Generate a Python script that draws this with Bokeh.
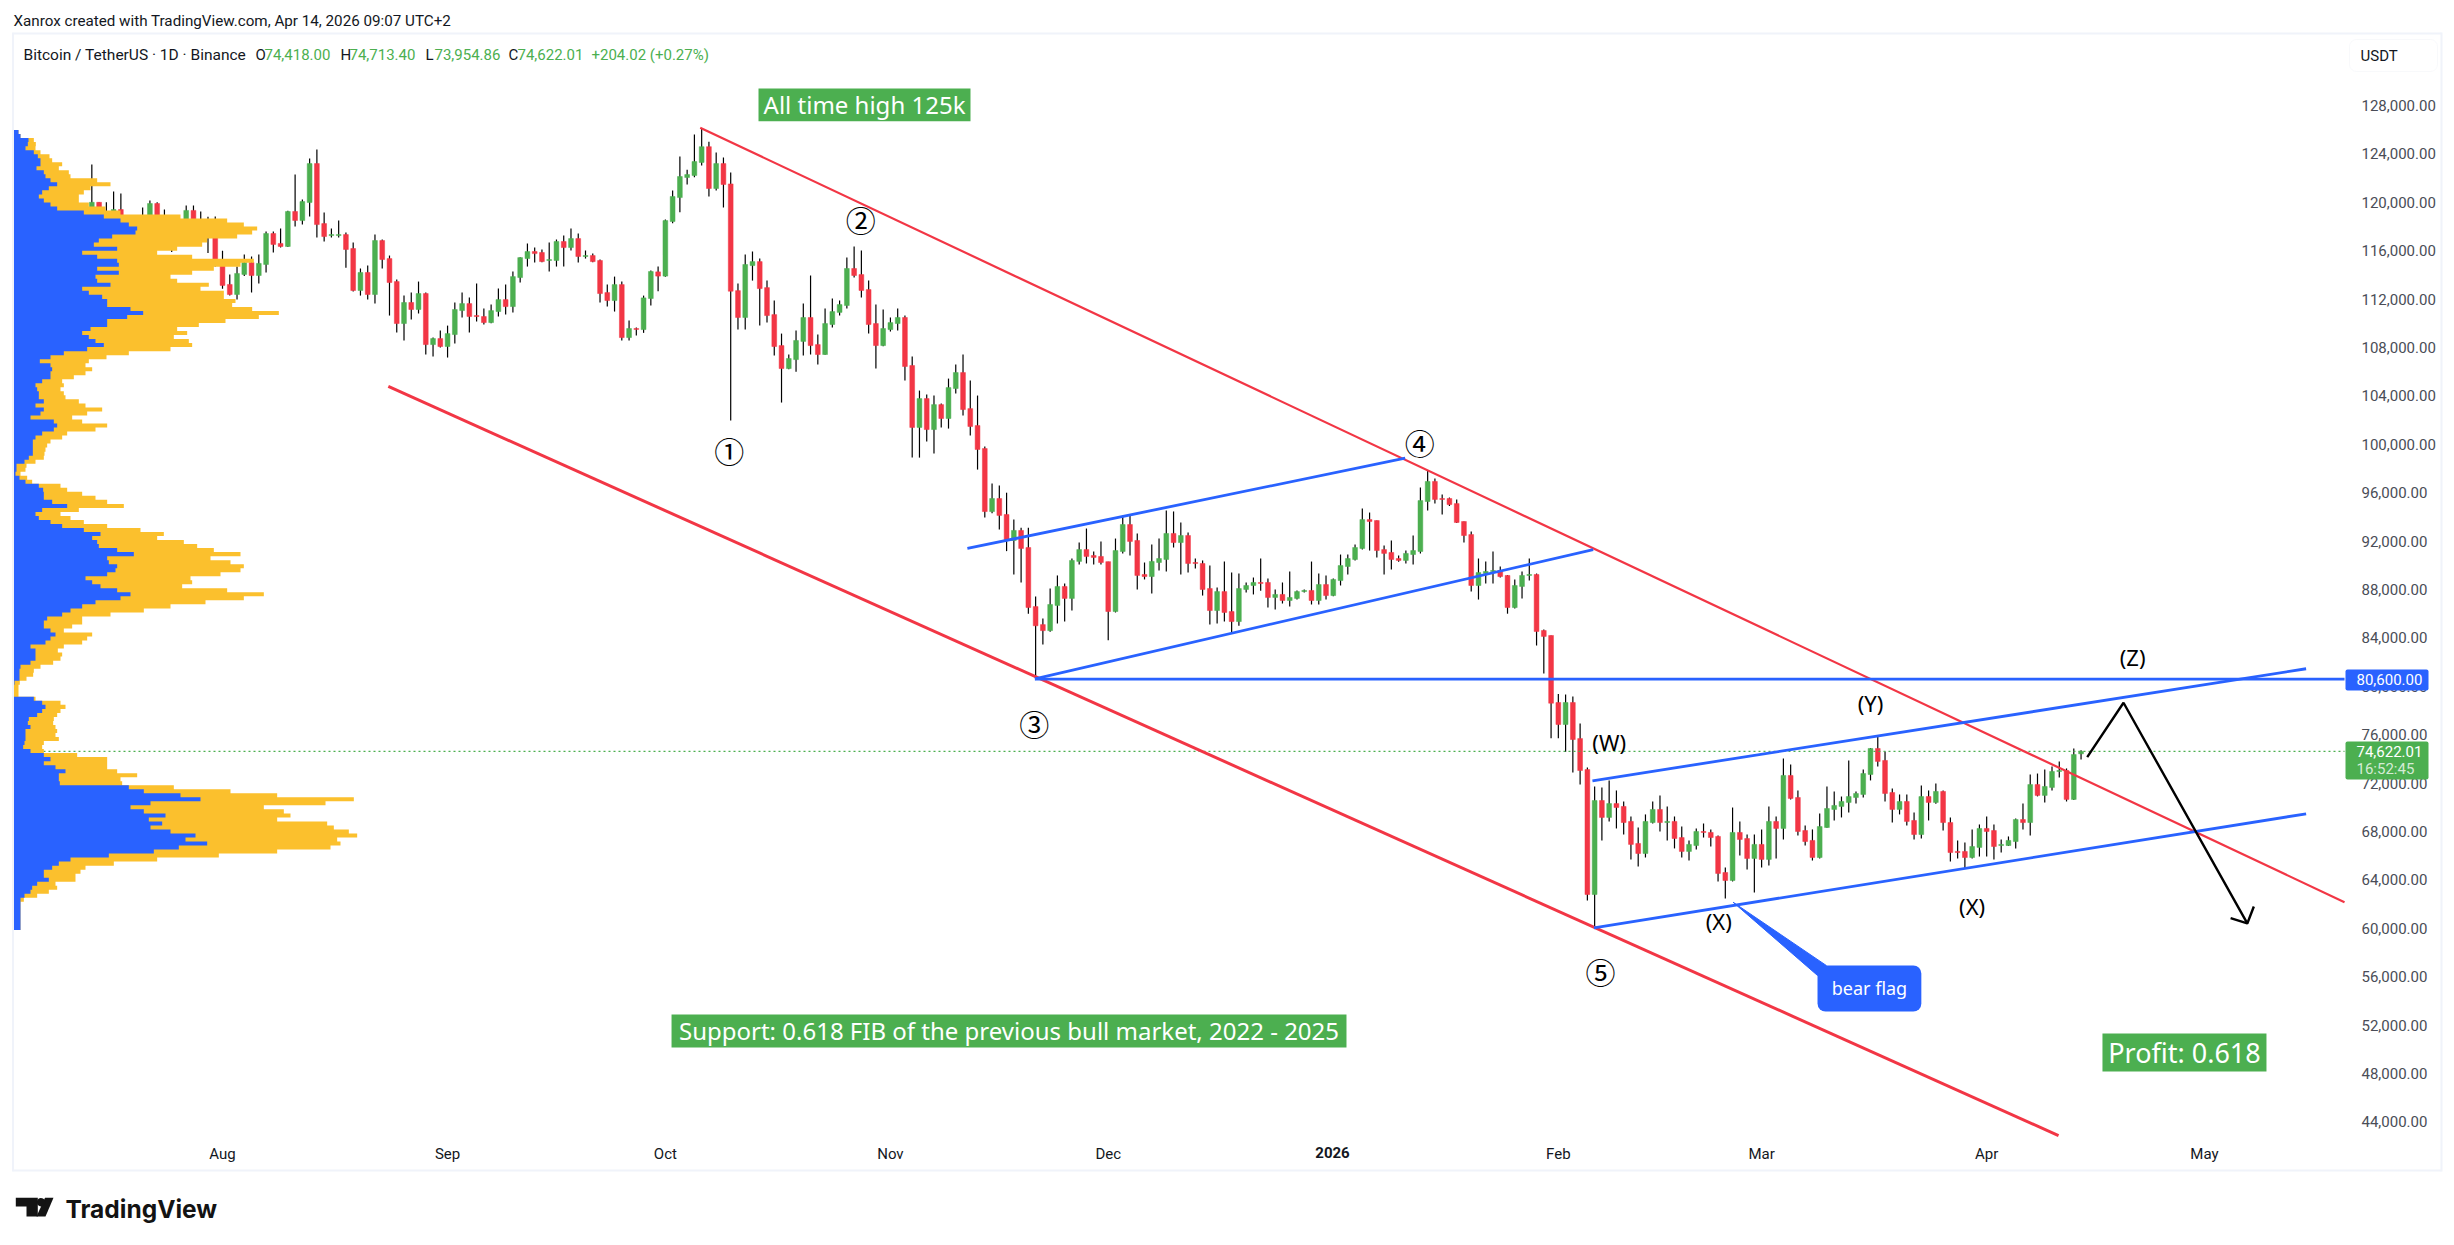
''' Bitcoin / TetherUS daily candles with visible range volume profile and wave annotations. '''
import numpy as np

from bokeh.core.properties import value
from bokeh.embed import file_html
from bokeh.models import (BoxAnnotation, FixedTicker, Label, LinearAxis, NumeralTickFormatter,
                          PolyAnnotation, Range1d)
from bokeh.plotting import figure
from bokeh.resources import INLINE

# days counted from 2025-08-01, first candle is 2025-07-04; all prices in thousands of USDT
first_day = -28

opens = [
    109.6, 108.0, 108.2, 109.2, 108.3, 108.9, 111.2, 116.0, 117.5, 117.4, 119.1, 120.0, 117.7, 118.6,
    119.4, 117.9, 117.9, 117.3, 117.4, 119.9, 118.8, 118.3, 117.6, 117.9, 119.33, 118.0, 117.9, 117.26,
    # aug
    114.86, 113.21, 112.38, 114.04, 115.03, 113.95, 114.86, 117.42, 116.6, 116.35, 119.24, 118.49, 119.98,
    123.2, 118.24, 117.25, 117.25, 117.33, 116.18, 112.71, 114.2, 112.38, 116.84, 115.35, 113.45, 109.98,
    111.72, 111.14, 112.46, 108.24, 108.74,
    # sep
    108.08, 109.07, 111.05, 111.63, 110.64, 110.56, 110.06, 110.97, 111.96, 111.38, 113.78, 115.35, 115.93,
    115.85, 115.19, 115.19, 116.76, 116.26, 117.0, 115.52, 115.6, 115.19, 112.54, 111.88, 113.2, 108.82,
    109.57, 109.48, 112.05, 114.25,
    # oct
    113.9, 118.41, 120.39, 122.05, 122.21, 123.29, 124.6, 121.14, 123.2, 121.52, 112.7, 110.48, 114.77,
    115.1, 112.95, 110.72, 108.16, 106.26, 107.0, 108.5, 110.48, 108.24, 107.42, 109.9, 110.9, 111.47,
    114.53, 114.03, 112.79, 109.98, 108.16,
    # nov
    109.48, 109.98, 110.48, 106.51, 101.39, 103.78, 101.22, 103.28, 102.13, 104.61, 105.93, 102.95, 101.55,
    99.65, 94.44, 95.52, 94.2, 92.05, 92.88, 91.47, 86.59, 85.1, 84.6, 86.68, 88.25, 87.26, 90.32, 91.3,
    90.81, 90.73,
    # dec
    90.3, 86.18, 91.14, 93.37, 92.05, 89.24, 89.07, 90.23, 90.48, 92.63, 91.88, 92.46, 90.23, 90.15, 88.08,
    86.26, 87.83, 86.18, 85.35, 88.0, 88.33, 88.58, 88.58, 87.34, 87.59, 87.09, 87.26, 87.83, 87.92, 87.09,
    88.41,
    # jan
    87.5, 88.74, 89.9, 90.48, 91.39, 93.78, 93.7, 91.3, 91.06, 90.56, 90.4, 90.89, 91.14, 95.27, 96.93,
    95.52, 95.52, 95.1, 93.62, 92.54, 88.33, 89.32, 89.49, 89.57, 89.16, 86.51, 88.25, 89.16, 89.24, 84.61,
    84.2,
    # feb
    78.66, 76.84, 78.66, 75.68, 73.12, 62.79, 70.56, 69.16, 70.31, 70.07, 68.83, 67.01, 66.18, 68.74, 69.82,
    68.74, 68.83, 67.5, 66.35, 66.84, 68.0, 67.92, 67.59, 64.61, 63.95, 67.92, 67.42, 65.77,
    # mar
    66.93, 65.69, 68.83, 68.25, 72.63, 70.81, 68.08, 67.26, 65.85, 68.33, 69.82, 70.07, 70.4, 70.81, 71.06,
    72.71, 74.86, 73.87, 71.22, 69.82, 70.48, 68.91, 67.75, 70.89, 70.4, 71.31, 68.74, 66.35, 66.35, 65.85,
    66.68,
    # apr
    68.25, 68.08, 66.84, 66.84, 67.17, 68.99, 68.74, 71.88, 70.98, 71.64, 72.96, 73.04, 70.65, 74.418,
]

highs = [
    109.8, 108.5, 109.7, 109.7, 109.2, 111.9, 116.9, 118.9, 118.2, 119.5, 123.13, 120.0, 120.0, 120.9,
    120.73, 118.9, 118.8, 119.57, 120.15, 120.0, 119.4, 118.4, 118.4, 119.74, 119.74, 119.24, 118.8, 118.83,
    # aug
    116.0, 114.04, 114.7, 115.69, 115.52, 115.69, 117.59, 117.59, 117.84, 119.3, 122.3, 120.23, 123.62,
    124.36, 119.15, 117.83, 118.49, 117.5, 116.67, 114.53, 114.77, 117.33, 116.92, 115.6, 113.62, 112.29,
    112.54, 113.45, 112.54, 108.82, 109.4,
    # sep
    109.81, 111.72, 112.54, 112.13, 113.29, 111.22, 111.55, 112.87, 113.2, 114.28, 115.45, 116.59, 116.26,
    116.1, 116.67, 116.92, 117.25, 117.83, 117.42, 116.01, 115.76, 115.27, 113.2, 113.86, 113.45, 110.23,
    109.65, 112.29, 114.36, 114.69,
    # oct
    118.57, 120.97, 123.78, 122.7, 125.6, 126.15, 125.0, 124.11, 123.7, 122.46, 113.29, 115.68, 115.93,
    115.35, 113.53, 111.88, 109.15, 107.42, 109.4, 111.63, 113.95, 109.07, 111.22, 112.05, 111.88, 115.43,
    116.34, 116.01, 113.53, 111.55, 111.14,
    # nov
    110.48, 111.22, 110.64, 107.25, 104.44, 104.11, 104.03, 103.37, 105.43, 106.59, 107.42, 105.27, 104.03,
    99.81, 96.76, 96.59, 96.0, 93.78, 93.1, 93.1, 87.42, 85.6, 88.08, 89.16, 88.5, 90.56, 91.88, 93.04,
    91.14, 91.97,
    # dec
    90.3, 92.21, 94.1, 94.1, 92.63, 90.23, 91.72, 92.21, 94.53, 94.45, 93.54, 92.71, 90.56, 90.4, 89.98,
    88.16, 90.31, 89.4, 89.32, 88.58, 88.99, 90.56, 88.91, 88.0, 88.58, 89.49, 87.92, 88.0, 90.31, 89.32,
    89.16,
    # jan
    88.9, 90.89, 90.89, 91.72, 94.69, 94.36, 93.7, 91.64, 92.05, 90.81, 91.22, 92.46, 96.43, 97.83, 97.17,
    95.85, 95.6, 95.44, 93.62, 92.79, 90.56, 90.31, 91.14, 89.9, 89.2, 88.83, 89.49, 90.56, 89.32, 84.7,
    84.2,
    # feb
    79.37, 79.32, 79.15, 76.92, 73.29, 71.72, 71.64, 72.22, 71.39, 70.48, 69.24, 68.33, 69.41, 70.48, 70.98,
    70.07, 69.24, 68.41, 67.26, 68.25, 68.66, 68.17, 67.67, 65.03, 69.98, 68.83, 67.75, 67.75,
    # mar
    68.17, 70.07, 69.24, 74.03, 73.54, 71.39, 68.5, 68.17, 69.49, 71.72, 71.31, 70.89, 73.87, 71.31, 73.12,
    74.9, 75.93, 74.61, 71.55, 71.06, 71.06, 69.57, 71.8, 71.39, 71.97, 71.39, 69.16, 67.26, 67.09, 68.17,
    68.58,
    # apr
    69.24, 68.58, 67.34, 67.59, 69.07, 70.31, 72.71, 72.79, 73.12, 73.37, 73.79, 73.21, 74.86, 74.713,
]

lows = [
    107.3, 107.8, 107.8, 107.5, 107.5, 108.3, 110.6, 115.2, 116.9, 117.2, 118.9, 115.7, 117.3, 117.8,
    116.8, 117.3, 116.5, 116.9, 116.15, 117.3, 117.1, 115.9, 117.3, 117.8, 117.4, 117.0, 115.8, 114.7,
    # aug
    112.85, 112.3, 111.97, 113.9, 112.55, 113.29, 114.2, 115.85, 116.27, 116.3, 118.0, 118.16, 118.82,
    117.09, 116.76, 117.09, 117.09, 114.6, 112.62, 112.29, 111.96, 111.63, 114.53, 110.64, 109.24, 108.57,
    110.31, 110.81, 107.42, 107.25, 108.0,
    # sep
    107.17, 108.33, 110.48, 109.24, 110.15, 109.9, 110.0, 110.56, 110.72, 110.89, 113.37, 114.69, 115.02,
    115.05, 114.28, 114.69, 114.69, 116.01, 115.02, 115.35, 115.05, 111.72, 111.38, 110.97, 108.57, 108.57,
    109.0, 109.21, 111.47, 112.65,
    # oct
    113.85, 118.27, 119.18, 121.47, 122.07, 123.04, 120.48, 120.97, 119.57, 101.96, 109.48, 109.48, 113.53,
    109.81, 110.06, 107.34, 103.45, 106.2, 106.0, 107.34, 107.42, 106.59, 107.4, 109.65, 110.64, 111.22,
    113.78, 112.13, 109.15, 106.26, 108.1,
    # nov
    109.32, 109.4, 105.27, 98.9, 98.9, 100.23, 99.24, 101.39, 101.3, 104.2, 102.38, 100.72, 97.91, 93.95,
    94.3, 92.96, 91.17, 89.24, 88.58, 86.0, 80.6, 83.45, 84.5, 85.19, 85.35, 86.26, 90.07, 90.15, 90.07,
    90.07,
    # dec
    83.8, 86.1, 90.98, 90.81, 88.0, 88.83, 87.67, 89.57, 89.49, 91.47, 89.24, 89.41, 89.73, 87.5, 85.1,
    85.19, 85.35, 84.36, 85.0, 87.75, 87.59, 87.9, 86.51, 86.35, 86.84, 86.59, 87.17, 87.75, 86.76, 86.76,
    87.17,
    # jan
    87.45, 88.33, 89.24, 90.4, 91.3, 91.22, 90.64, 89.24, 89.65, 90.3, 90.15, 90.07, 90.98, 94.53, 95.11,
    94.2, 94.9, 93.5, 91.88, 87.83, 87.17, 88.5, 88.5, 89.0, 86.0, 86.43, 87.26, 88.74, 83.37, 81.06,
    75.71,
    # feb
    75.71, 74.58, 72.87, 71.88, 62.3, 59.96, 67.26, 68.83, 68.25, 67.75, 65.69, 65.11, 65.85, 68.66, 68.0,
    67.26, 66.6, 65.85, 65.6, 66.51, 67.5, 66.76, 63.87, 62.46, 63.87, 66.02, 64.86, 62.96,
    # mar
    65.03, 65.19, 65.77, 67.34, 70.65, 67.67, 66.84, 65.6, 65.77, 68.3, 68.91, 69.16, 69.57, 70.31, 70.81,
    72.22, 73.37, 70.48, 68.74, 69.41, 68.5, 67.34, 67.42, 68.91, 70.3, 68.08, 65.52, 65.77, 64.94, 65.77,
    65.93,
    # apr
    65.93, 65.69, 66.26, 66.8, 66.6, 68.17, 67.67, 70.9, 70.4, 71.39, 72.46, 70.48, 70.6, 73.954,
]

closes = [
    108.0, 108.2, 109.2, 108.3, 108.9, 111.2, 116.0, 117.5, 117.4, 119.1, 120.0, 117.7, 118.6, 119.4,
    117.9, 117.9, 117.3, 117.4, 119.9, 118.8, 118.3, 117.6, 117.9, 119.33, 118.0, 117.9, 117.8, 114.86,
    # aug
    113.13, 112.38, 114.12, 115.03, 113.95, 114.95, 117.42, 116.52, 116.35, 119.24, 118.5, 120.06, 123.2,
    118.16, 117.17, 117.33, 117.33, 116.1, 112.71, 114.2, 112.38, 116.84, 115.27, 113.37, 109.98, 111.72,
    111.14, 112.46, 108.24, 108.74, 108.08,
    # sep
    109.15, 111.14, 111.63, 110.56, 110.56, 110.06, 111.05, 111.96, 111.38, 113.86, 115.43, 115.93, 115.76,
    115.1, 115.27, 116.76, 116.26, 117.0, 115.52, 115.6, 115.1, 112.46, 111.88, 113.2, 108.82, 109.57,
    109.49, 112.1, 114.28, 113.9,
    # oct
    118.49, 120.48, 122.13, 122.29, 123.37, 124.6, 121.14, 123.2, 121.47, 112.65, 110.48, 114.86, 115.1,
    112.87, 110.64, 108.08, 106.26, 107.09, 108.58, 110.48, 108.16, 107.42, 109.98, 110.97, 111.55, 114.53,
    113.95, 112.71, 109.9, 108.16, 109.57,
    # nov
    110.06, 110.48, 106.43, 101.39, 103.78, 101.22, 103.28, 102.13, 104.69, 105.93, 102.87, 101.47, 99.57,
    94.44, 95.52, 94.12, 92.05, 92.88, 91.39, 86.51, 85.0, 84.6, 86.76, 88.25, 87.26, 90.4, 91.3, 90.73,
    90.65, 90.23,
    # dec
    86.18, 91.22, 93.37, 91.97, 89.16, 89.07, 90.32, 90.56, 92.63, 91.88, 92.46, 90.15, 90.15, 88.0, 86.26,
    87.83, 86.1, 85.35, 88.08, 88.33, 88.58, 88.5, 87.34, 87.59, 87.09, 87.34, 87.83, 87.92, 87.09, 88.41,
    87.5,
    # jan
    88.83, 89.98, 90.56, 91.47, 93.78, 93.62, 91.22, 90.98, 90.48, 90.4, 90.98, 91.22, 95.35, 96.93, 95.44,
    95.44, 95.02, 93.54, 92.46, 88.33, 89.4, 89.49, 89.57, 89.07, 86.51, 88.33, 89.16, 89.24, 84.53, 84.12,
    78.6,
    # feb
    76.84, 78.66, 75.6, 73.04, 62.79, 70.56, 69.16, 70.31, 69.98, 68.74, 66.93, 66.18, 68.83, 69.82, 68.74,
    68.83, 67.42, 66.35, 66.93, 68.0, 67.92, 67.5, 64.53, 63.95, 67.92, 67.34, 65.77, 66.93,
    # mar
    65.69, 68.83, 68.25, 72.63, 70.73, 68.0, 67.17, 65.85, 68.41, 69.9, 70.15, 70.48, 70.89, 71.14, 72.79,
    74.86, 73.79, 71.14, 69.82, 70.48, 68.83, 67.75, 70.89, 70.4, 71.31, 68.74, 66.26, 66.26, 65.85, 66.76,
    68.25,
    # apr
    68.0, 66.76, 66.93, 67.26, 68.99, 68.74, 71.88, 70.98, 71.72, 72.96, 73.04, 70.65, 74.36, 74.622,
]

# volume profile rows from the top row down, each row is profile_step wide in price
profile_top = 125.97
profile_step = 0.3322
volume_up = [
    15, 21, 45, 43, 36, 61, 73, 81, 81, 69, 91, 96, 111, 131, 106, 86, 76, 91, 111, 131,
    211, 271, 321, 346, 371, 366, 296, 256, 241, 311, 206, 251, 311, 316, 251, 316, 246, 251, 291, 206,
    226, 266, 281, 281, 351, 389, 341, 281, 281, 231, 206, 226, 246, 271, 221, 151, 111, 79, 111, 116,
    111, 111, 86, 66, 71, 76, 76, 91, 66, 91, 81, 51, 121, 131, 121,
    86, 66, 58, 58, 58, 58, 46, 33, 9, 9, 6, 18, 36, 76, 89, 91, 91, 116, 161, 86,
    66, 76, 111, 146, 211, 261, 236, 251, 256, 311, 361, 281, 286, 311, 306, 281, 216, 236, 261, 311,
    351, 321, 246, 206, 171, 146, 101, 91, 91, 111, 126, 111, 96, 51, 66, 66, 66, 51, 21, 18,
    18, 18, 3, 0, 0, 0, 61, 86, 96, 86, 71, 46, 43, 51, 36, 36, 36, 33, 29, 51,
    91, 111, 91, 126, 156, 136, 136, 139, 346, 391, 501, 561, 411, 351, 391, 456, 406, 446, 411, 471,
    546, 516, 581, 496, 421, 286, 171, 136, 116, 91, 91, 106, 71, 56, 51, 33, 21,
    21, 21, 21, 21, 21, 21, 21,
]
volume_total = [
    15, 21, 61, 67, 66, 81, 108, 116, 146, 136, 166, 171, 251, 291, 231, 211, 196, 196, 226, 276,
    321, 501, 641, 691, 731, 716, 671, 581, 566, 491, 431, 536, 721, 681, 601, 536, 471, 491, 586, 561,
    631, 631, 666, 656, 716, 796, 736, 636, 556, 491, 521, 481, 526, 536, 471, 346, 279, 226, 216, 236,
    216, 181, 146, 151, 141, 151, 156, 196, 216, 266, 221, 176, 206, 281, 246,
    161, 146, 111, 101, 96, 93, 91, 66, 39, 36, 21, 41, 56, 141, 161, 206, 246, 281, 331, 196,
    141, 171, 211, 281, 381, 451, 431, 511, 551, 601, 681, 591, 651, 691, 681, 621, 531, 536, 506, 641,
    751, 691, 576, 471, 391, 291, 206, 206, 176, 151, 236, 221, 206, 151, 133, 146, 141, 119, 81, 61,
    59, 39, 19, 15, 15, 15, 66, 141, 156, 141, 131, 121, 119, 126, 131, 126, 136, 91, 86, 91,
    191, 281, 281, 281, 311, 371, 321, 326, 481, 651, 791, 1021, 936, 751, 811, 831, 791, 941, 961, 1006,
    1031, 971, 981, 951, 791, 616, 431, 301, 216, 201, 186, 186, 126, 131, 106, 71, 31,
    21, 21, 21, 21, 21, 21, 21,
]

price_ticks = [44, 48, 52, 56, 60, 64, 68, 72, 76, 80, 84, 88, 92, 96, 100, 104, 108, 112, 116, 120, 124, 128]
month_days = [0, 31, 61, 92, 122, 153, 184, 212, 243, 273]
month_names = ["Aug", "Sep", "Oct", "Nov", "Dec", " ", "Feb", "Mar", "Apr", "May"]

last_price = 74.622
level_price = 80.6

# edges of the price pane, in days and thousands
pane_left, pane_right = -28.79, 292.29
pane_bottom = 42.87

# drawn lines: (days, prices)
upper_red = ([65.8, pane_right], [126.16, 62.16])
lower_red = ([22.84, 252.9], [104.78, pane_bottom])
channel_a_top = ([102.6, 162.9], [91.39, 98.85])
channel_a_bottom = ([111.9, 188.8], [80.62, 91.3])
channel_b_top = ([188.7, 287.0], [72.19, 81.45])
channel_b_bottom = ([188.9, 287.0], [60.04, 69.46])
level_line = ([111.9, pane_right], [level_price, level_price])
forecast = ([256.85, 261.85, 278.9], [74.14, 78.64, 60.4])
forecast_head = ([276.6, 278.9, 279.8], [60.84, 60.4, 61.8])
flag_pointer = ([208.06, 220.9, 219.7], [62.16, 56.93, 56.1])

wave_labels = ["①", "②", "③", "④", "⑤"]
wave_days = [69.8, 87.9, 111.8, 164.9, 189.8]
wave_prices = [99.5, 118.66, 76.93, 100.15, 56.51]
sub_labels = ["(W)", "(X)", "(Y)", "(X)", "(Z)"]
sub_days = [191.0, 206.1, 227.0, 241.0, 263.1]
sub_prices = [75.38, 60.59, 78.6, 61.88, 82.38]

GREEN = "#4CAF50"
RED = "#F23645"
BLUE = "#2962FF"
YELLOW = "#FBC02D"
FRAME = "#F0F3FA"
TEXT = "#131722"
FONT = "Noto Sans"
UI_FONT = "Roboto"

days = np.arange(first_day, first_day + len(opens))
o = np.array(opens) * 1000
h = np.array(highs) * 1000
l = np.array(lows) * 1000
c = np.array(closes) * 1000
colors = [GREEN if cl >= op else RED for op, cl in zip(o, c)]

# the frame fills the whole page so the header, scales and logo are not clipped by it
p = figure(frame_width=2445, frame_height=1235,
           x_range=Range1d(-30.58, 306.2), y_range=Range1d(34610, 136678),
           x_axis_type=None, y_axis_type=None, toolbar_location=None, output_backend="svg",
           min_border=0, background_fill_color="white", border_fill_color="white", outline_line_color=None)
p.extra_x_ranges["volume"] = Range1d(-39, 7296)
p.grid.grid_line_color = None

xaxis = LinearAxis(fixed_location=pane_bottom * 1000, ticker=FixedTicker(ticks=month_days),
                   major_label_overrides=dict(zip(month_days, month_names)),
                   major_label_text_color=TEXT, major_label_standoff=3)
yaxis = LinearAxis(fixed_location=pane_right, ticker=FixedTicker(ticks=[t * 1000 for t in price_ticks]),
                   formatter=NumeralTickFormatter(format="0,0.00"),
                   major_label_text_color="#4A4D57", major_label_standoff=11)
for axis, side in ((xaxis, "below"), (yaxis, "right")):
    axis.axis_line_color = None
    axis.major_tick_line_color = None
    axis.minor_tick_line_color = None
    axis.major_label_text_font = UI_FONT
    axis.major_label_text_font_size = "15px"
    p.add_layout(axis, side)

# candles
p.segment(days, l, days, h, color="black", line_width=1.2)
p.vbar(days, 0.66, np.minimum(o, c), np.maximum(o, c), fill_color=colors, line_color=colors, line_width=0.5)

# last price
p.line([pane_left, pane_right], [last_price * 1000] * 2, line_color=GREEN, line_width=1.2, line_dash="2 3")

# volume profile sits above the candles, drawn as one stepped outline per colour
edges = (profile_top - profile_step * np.arange(len(volume_up) + 1)) * 1000
step_y = np.concatenate([[edges[0]], np.repeat(edges[1:-1], 2), [edges[-1]]])
for volumes, color in ((volume_total, YELLOW), (volume_up, BLUE)):
    step_x = np.repeat(volumes, 2)
    p.patch(np.concatenate([[0], step_x, [0]]), np.concatenate([[edges[0]], step_y, [edges[-1]]]),
            x_range_name="volume", fill_color=color, line_color=None)

# trend lines
def draw(points, color, width):
    p.line(points[0], np.array(points[1]) * 1000, line_color=color, line_width=width)

draw(upper_red, RED, 2.2)
draw(lower_red, RED, 3)
for points in (channel_a_top, channel_a_bottom, channel_b_top, channel_b_bottom, level_line):
    draw(points, BLUE, 2.8)
draw(forecast, "black", 2.4)
draw(forecast_head, "black", 2.4)
p.patch(flag_pointer[0], np.array(flag_pointer[1]) * 1000, color=BLUE)

p.text(wave_days, np.array(wave_prices) * 1000, wave_labels, text_font=value("Noto Sans CJK JP"), text_font_size="30px",
       text_align="center", text_baseline="middle", text_color="black")
p.text(sub_days, np.array(sub_prices) * 1000, sub_labels, text_font=value(FONT), text_font_size="22px",
       text_align="center", text_baseline="middle", text_color="black")

# text boxes on the chart
def note(left, right, top, bottom, text, size, color, radius=0):
    p.add_layout(BoxAnnotation(left=left, right=right, top=top * 1000, bottom=bottom * 1000, fill_color=color,
                               fill_alpha=1, line_color=None, border_radius=radius))
    p.add_layout(Label(x=(left + right) / 2, y=(top + bottom) / 2 * 1000, text=text, text_color="white",
                       text_font=FONT, text_font_size=size, text_align="center", text_baseline="middle"))

note(73.83, 103.03, 129.4, 126.7, "All time high 125k", "24px", GREEN)
note(61.85, 154.82, 52.88, 50.15, "Support: 0.618 FIB of the previous bull market, 2022 - 2025", "24px", GREEN)
note(258.95, 281.54, 51.31, 48.17, "Profit: 0.618", "27px", GREEN)
note(219.7, 234.0, 56.93, 53.12, "bear flag", "18px", BLUE, radius=8)

# everything below is placed in page pixels
def page_label(x, y, text, color=TEXT, size="15px", font=UI_FONT, align="left", style="normal"):
    p.add_layout(Label(x=x, y=y, x_units="canvas", y_units="canvas", text=text, text_color=color,
                       text_font=font, text_font_size=size, text_align=align, text_baseline="middle",
                       text_font_style=style))

def page_box(left, right, top, bottom, color, radius=0, line=None):
    p.add_layout(BoxAnnotation(left=left, right=right, top=top, bottom=bottom,
                               left_units="canvas", right_units="canvas", top_units="canvas", bottom_units="canvas",
                               fill_color=color, fill_alpha=1, line_color=line, border_radius=radius))

# frame round chart and scales
page_box(13, 2441, 32, 34, FRAME)
page_box(13, 2441, 1169, 1171, FRAME)
page_box(11.5, 13.5, 32, 1171, FRAME)
page_box(2440, 2442, 32, 1171, FRAME)

page_label(13, 20, "Xanrox created with TradingView.com, Apr 14, 2026 09:07 UTC+2", size="15.2px")
page_label(23, 54, "Bitcoin / TetherUS · 1D · Binance", size="15.5px")
for x, letter, number in ((255, "O", "74,418.00"), (340, "H", "74,713.40"), (425, "L", "73,954.86"), (508, "C", "74,622.01")):
    page_label(x, 54, letter, size="15px")
    page_label(x + 9, 54, number, color=GREEN, size="15px")
page_label(591, 54, "+204.02 (+0.27%)", color=GREEN, size="15px")
page_label(1332, 1152, "2026", align="center", style="bold")

page_box(2349, 2437, 39, 71, "white", radius=7, line="#E9ECF2")
page_label(2360, 55, "USDT")

page_box(2345, 2428, 669, 690, BLUE, radius=2)
page_label(2356, 679, "80,600.00", color="white")
page_box(2345, 2428, 741, 779, GREEN, radius=2)
page_label(2356, 751, "74,622.01", color="white")
page_label(2356, 768, "16:52:45", color="#D5EBD6")

# logo
logo_t = ([15.3, 37.3, 37.3, 26, 26, 15.3], [1197.3, 1197.3, 1216, 1216, 1206, 1206])
logo_slash = ([44.5, 53, 45, 36], [1197.3, 1197.3, 1216, 1216])
angles = np.linspace(0, 2 * np.pi, 16)
logo_dot = (40.5 + 4.2 * np.cos(angles), 1201.7 + 4.2 * np.sin(angles))
for xs, ys in (logo_t, logo_slash, logo_dot):
    p.add_layout(PolyAnnotation(xs=list(xs), ys=list(ys), xs_units="canvas", ys_units="canvas",
                                fill_color="#131313", fill_alpha=1, line_color=None))
page_label(65, 1208, "TradingView", color="#131313", size="24.5px", font="Inter", style="bold")

open("out.html", "w").write(file_html(p, INLINE))
